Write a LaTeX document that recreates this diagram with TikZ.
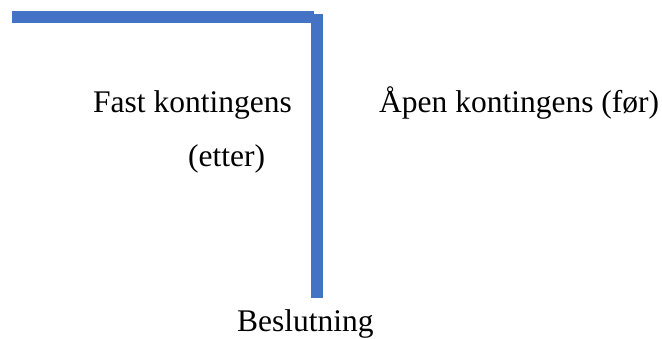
\documentclass[tikz,border=0pt]{standalone}
\usepackage{fontspec}
\setmainfont{Liberation Serif}
\usepackage{tikz}
\definecolor{axisblue}{HTML}{4472C4}

\begin{document}
\begin{tikzpicture}[x=1pt,y=-1pt,
    txt/.style={anchor=base west,inner sep=0pt,font=\fontsize{31.5}{38}\selectfont},
    axis/.style={draw=axisblue,line width=12pt}]
  \useasboundingbox (0,0) rectangle (662,338);

  % the two axes
  \draw[axis] (12,17) -- (314,17);
  \draw[axis] (317,14) -- (317,298);

  \node[txt] (fast) at (93,112) {Fast kontingens};
  \node[txt] (etter) at (188,166) {(etter)};
  \node[txt] (aapen) at (379,112) {Åpen kontingens (før)};
  \node[txt] (beslutning) at (237,331) {Beslutning};
\end{tikzpicture}
\end{document}
